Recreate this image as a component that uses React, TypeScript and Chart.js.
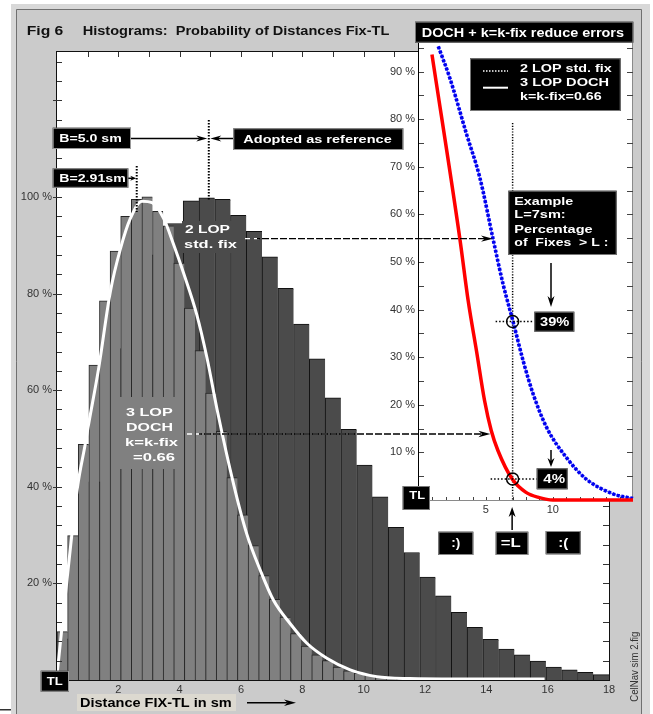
import React, { useEffect, useRef } from 'react';
import { Chart, registerables } from 'chart.js';

Chart.register(...registerables);

const W = 653;
const H = 714;
const FONT = '"Liberation Sans", Arial, Helvetica, sans-serif';

// ---------------- main histogram data ----------------
const HIST_RANGE_SM = 18;
// 2 LOP standard fix : 35 bins over 0..18 sm (percent of max)
const stdFixPct = [8.5, 25, 41, 55.6, 68.6, 79.5, 88, 94.5, 99.2, 99.8, 99.5, 96.2, 92.9, 87.6, 81.1, 73.7, 66.5, 58.4, 51.9, 44.5, 37.9, 31.6, 26.4, 21.3, 17.4, 14, 10.9, 8.4, 6.4, 5.2, 3.9, 2.7, 2.1, 1.6, 1.1];
// 3 LOP DOCH k=k-fix : 52 bins over 0..18 sm
const dochPct = [10, 29.9, 48.8, 65.2, 78.5, 88.8, 96, 99.5, 100, 97, 94, 86.3, 77, 68.2, 59.4, 51.5, 41.9, 34.2, 27.8, 21.6, 16.7, 13, 9.6, 7, 5.2, 4, 2.7, 1.9, 1.4, 1.0, 0.8, 0.6, 0.5, 0.4, 0.35, 0.3, 0.25, 0.2, 0.2, 0.15, 0.15, 0.1, 0.1, 0.1, 0.1, 0.05, 0, 0, 0, 0, 0, 0];
// fitted curve for DOCH histogram
const dochFitX = [0, 0.33, 0.67, 0.92, 1.01, 1.36, 1.74, 2.07, 2.39, 2.77, 3.1, 3.48, 3.8, 4.13, 4.56, 4.89, 5.22, 5.76, 6.19, 6.63, 7.06, 7.6, 8.15, 8.8, 9.56, 10.43, 11.5, 13, 15.9];
const dochFitY = [1, 21, 40, 48.8, 52.2, 64.6, 80.4, 89.3, 95.5, 99.1, 98.8, 95.5, 90.2, 84.2, 75.6, 66.7, 56, 40.5, 30.2, 22.7, 16.5, 11.7, 7.6, 4.5, 2.1, 0.7, 0.3, 0.2, 0.2];
const mainXLabels = [2, 4, 6, 8, 10, 12, 14, 16, 18];
const mainYLabels = [20, 40, 60, 80, 100];
const bStdMark = 4.95; // B=5.0 sm
const bDochMark = 2.6; // B=2.91 sm

// ---------------- inset: percentage of fixes > L ----------------
const INSET_X_MAX = 16;
const INSET_Y_MAX = 96;
const stdExceedX = [1.44, 2.31, 3.56, 4.55, 5.54, 6.29, 7.04, 7.79, 8.53, 9.53, 11, 12.5, 14.5, 16];
const stdExceedY = [95.3, 88.6, 76.8, 67.7, 54.8, 45.3, 37.4, 29.2, 22.3, 15.3, 9, 4.4, 1.3, 0.3];
const dochExceedX = [0.97, 3.06, 3.68, 4.3, 4.9, 5.4, 5.9, 6.97, 8.0, 9.0, 10, 16];
const dochExceedY = [93.6, 54.8, 41.8, 31.3, 20.9, 14.6, 10.4, 4.4, 1.6, 0.5, 0, 0];
const insetXLabels = [5, 10];
const insetYLabels = [10, 20, 30, 40, 50, 60, 70, 80, 90];
const exampleL = 7;
const stdAtL = 37.5;
const dochAtL = 4.4;
const stdArrowLevel = 54.9;
const dochArrowLevel = 13.86;

// ---------------- helpers ----------------
function text(ctx: CanvasRenderingContext2D, s: string, x: number, cy: number, size: number, width: number | null, opts: { bold?: boolean; color?: string; align?: 'left' | 'center' } = {}) {
  ctx.save();
  ctx.font = `${opts.bold === false ? '' : 'bold '}${size}px ${FONT}`;
  ctx.fillStyle = opts.color ?? '#fff';
  ctx.textBaseline = 'alphabetic';
  ctx.textAlign = 'left';
  const m = ctx.measureText(s).width;
  const sx = width ? width / m : 1;
  const w = m * sx;
  const x0 = opts.align === 'center' ? x - w / 2 : x;
  ctx.translate(x0, cy + size * 0.36);
  ctx.scale(sx, 1);
  ctx.fillText(s, 0, 0);
  ctx.restore();
}

function box(ctx: CanvasRenderingContext2D, x: number, y: number, w: number, h: number, fill = '#000', stroke: string | null = '#9a9a9a') {
  ctx.fillStyle = fill;
  ctx.fillRect(x, y, w, h);
  if (stroke) {
    ctx.strokeStyle = stroke;
    ctx.lineWidth = 1;
    ctx.strokeRect(x + 0.5, y + 0.5, w - 1, h - 1);
  }
}

function arrowHead(ctx: CanvasRenderingContext2D, x: number, y: number, ang: number, len = 10, hw = 3.5, color = '#000') {
  const c = Math.cos(ang), s = Math.sin(ang);
  const bx = x - len * c, by = y - len * s;
  const nx = x - len * 0.7 * c, ny = y - len * 0.7 * s;
  ctx.fillStyle = color;
  ctx.beginPath();
  ctx.moveTo(x, y);
  ctx.lineTo(bx - hw * s, by + hw * c);
  ctx.lineTo(nx, ny);
  ctx.lineTo(bx + hw * s, by - hw * c);
  ctx.closePath();
  ctx.fill();
}

function arrow(ctx: CanvasRenderingContext2D, x1: number, y1: number, x2: number, y2: number, len = 10, hw = 3.5, lw = 1.5) {
  const ang = Math.atan2(y2 - y1, x2 - x1);
  ctx.save();
  ctx.strokeStyle = '#000';
  ctx.lineWidth = lw;
  ctx.setLineDash([]);
  ctx.beginPath();
  ctx.moveTo(x1, y1);
  ctx.lineTo(x2 - len * 0.7 * Math.cos(ang), y2 - len * 0.7 * Math.sin(ang));
  ctx.stroke();
  arrowHead(ctx, x2, y2, ang, len, hw);
  ctx.restore();
}

function dashedArrow(ctx: CanvasRenderingContext2D, x1: number, y: number, x2: number) {
  ctx.save();
  ctx.lineWidth = 1.3;
  ctx.strokeStyle = '#fff';
  ctx.setLineDash([5, 4]);
  ctx.lineDashOffset = 0;
  ctx.beginPath(); ctx.moveTo(x1, y); ctx.lineTo(x2 - 8, y); ctx.stroke();
  ctx.strokeStyle = '#000';
  ctx.setLineDash([7, 2]);
  ctx.lineDashOffset = 4;
  ctx.beginPath(); ctx.moveTo(x1 + 12, y); ctx.lineTo(x2 - 8, y); ctx.stroke();
  ctx.restore();
  arrowHead(ctx, x2, y, 0, 12, 3.2);
}

function dotted(ctx: CanvasRenderingContext2D, x1: number, y1: number, x2: number, y2: number, lw = 1.5, color = '#000', dash = [1.5, 1.5]) {
  ctx.save();
  ctx.strokeStyle = color;
  ctx.lineWidth = lw;
  ctx.setLineDash(dash);
  ctx.beginPath(); ctx.moveTo(x1, y1); ctx.lineTo(x2, y2); ctx.stroke();
  ctx.restore();
}

function crossX(xa: number[], ya: number[], level: number): number {
  for (let i = 1; i < xa.length; i++) {
    const y0 = ya[i - 1], y1 = ya[i];
    if ((y0 - level) * (y1 - level) <= 0 && y0 !== y1) {
      return xa[i - 1] + (level - y0) * (xa[i] - xa[i - 1]) / (y1 - y0);
    }
  }
  return xa[xa.length - 1];
}

// ---------------- plugins ----------------
const mainDecor = {
  id: 'mainDecor',
  beforeDraw(chart: any) {
    const ctx: CanvasRenderingContext2D = chart.ctx;
    const { left, top, right, bottom } = chart.chartArea;
    ctx.save();
    ctx.fillStyle = '#fff'; ctx.fillRect(0, 0, W, H);
    ctx.fillStyle = '#d8d8d8'; ctx.fillRect(11, 4, 639, H);
    ctx.fillStyle = '#cbcbcb'; ctx.fillRect(16, 9, 626, H);
    ctx.strokeStyle = '#707070'; ctx.lineWidth = 1;
    ctx.beginPath(); ctx.moveTo(16.5, H); ctx.lineTo(16.5, 9.5); ctx.lineTo(641.5, 9.5); ctx.lineTo(641.5, H); ctx.stroke();
    ctx.fillStyle = '#333'; ctx.fillRect(0, 709, 11, 1.5);
    ctx.fillStyle = '#fff'; ctx.fillRect(left, top, right - left, bottom - top);
    text(ctx, 'Fig 6', 26.7, 30.5, 12.5, 36.6, { color: '#111' });
    text(ctx, 'Histograms:  Probability of Distances Fix-TL', 82.7, 30.5, 12.5, 306.6, { color: '#111' });
    ctx.fillStyle = '#dcd9d0'; ctx.fillRect(77, 694, 159, 17);
    text(ctx, 'Distance FIX-TL in sm', 80, 702.7, 12, 151.7, { color: '#000' });
    arrow(ctx, 247, 702.7, 296, 702.7, 12, 3.2, 1.5);
    ctx.save();
    ctx.translate(634.5, 666.7);
    ctx.rotate(-Math.PI / 2);
    text(ctx, 'CelNav sim 2.fig', 0, 0, 10.5, 70, { bold: false, color: '#333', align: 'center' });
    ctx.restore();
    ctx.restore();
  },
  afterDatasetsDraw(chart: any) {
    const ctx: CanvasRenderingContext2D = chart.ctx;
    const { left, top, right, bottom } = chart.chartArea;
    const xs = chart.scales.x, ys = chart.scales.y;
    ctx.save();
    // in-plot labels
    ctx.fillStyle = '#4b4b4b'; ctx.fillRect(182, 221, 64, 32);
    text(ctx, '2 LOP', 185, 229, 11.5, 45);
    text(ctx, 'std. fix', 184, 244, 11.5, 53);
    ctx.fillStyle = '#808080'; ctx.fillRect(120, 397, 64, 72);
    text(ctx, '3 LOP', 126, 411.7, 11.5, 46.7);
    text(ctx, 'DOCH', 126, 426.7, 11.5, 47);
    text(ctx, 'k=k-fix', 125, 441.5, 11.5, 53);
    text(ctx, '=0.66', 133, 456.7, 11.5, 42);
    // frame
    ctx.strokeStyle = '#111'; ctx.lineWidth = 1; ctx.setLineDash([]);
    ctx.strokeRect(left - 0.5, top - 0.5, right - left + 1, bottom - top + 1);
    ctx.strokeStyle = '#333';
    ctx.beginPath();
    for (let v = 1; v < HIST_RANGE_SM; v++) {
      const px = Math.round(xs.getPixelForValue(v)) + 0.5;
      ctx.moveTo(px, top); ctx.lineTo(px, top + 5);
    }
    for (let v = 4; v < 130; v += 4) {
      const py = Math.round(ys.getPixelForValue(v)) + 0.5;
      const major = v % 20 === 0;
      ctx.moveTo(left - (major ? 4 : 0), py); ctx.lineTo(left + 5, py);
      ctx.moveTo(right - 6, py); ctx.lineTo(right, py);
    }
    ctx.stroke();
    // B markers
    const xb = xs.getPixelForValue(bStdMark);
    dotted(ctx, xb, 120, xb, ys.getPixelForValue(100) + 4, 2);
    const xb2 = xs.getPixelForValue(bDochMark);
    dotted(ctx, xb2, 166, xb2, 212, 2);
    box(ctx, 52.7, 127.7, 78.3, 21.3);
    text(ctx, 'B=5.0 sm', 59.3, 138.5, 11, 62.4);
    box(ctx, 233.3, 128.3, 170, 21.7);
    text(ctx, 'Adopted as reference', 243.3, 139, 11, 148.4);
    arrow(ctx, 131, 138.5, xb - 1.5, 138.5, 11, 3);
    arrow(ctx, 233, 138.5, xb + 1.5, 138.5, 11, 3);
    box(ctx, 52.7, 168.3, 75.6, 19.5);
    text(ctx, 'B=2.91sm', 59.3, 178.3, 11, 66.4);
    arrow(ctx, 128.3, 178.3, xb2 - 0.5, 178.3, 6, 2.5);
    // TL
    box(ctx, 40.7, 670.7, 28.3, 21);
    text(ctx, 'TL', 46.7, 680.7, 11.5, 16);
    ctx.restore();
  },
};

const insetDecor = {
  id: 'insetDecor',
  beforeDraw(chart: any) {
    const ctx: CanvasRenderingContext2D = chart.ctx;
    const { left, top, right, bottom } = chart.chartArea;
    ctx.save();
    ctx.fillStyle = '#fff';
    ctx.fillRect(left, top, right - left, bottom - top);
    ctx.restore();
  },
  beforeDatasetsDraw(chart: any) {
    const ctx: CanvasRenderingContext2D = chart.ctx;
    const { left, top, right, bottom } = chart.chartArea;
    const xs = chart.scales.x, ys = chart.scales.y;
    ctx.save();
    ctx.lineWidth = 1;
    ctx.strokeStyle = '#000';
    ctx.beginPath(); ctx.moveTo(left - 0.5, top); ctx.lineTo(left - 0.5, bottom); ctx.stroke();
    ctx.strokeStyle = '#8a8a8a';
    ctx.beginPath(); ctx.moveTo(right - 0.5, top); ctx.lineTo(right - 0.5, bottom); ctx.stroke();
    ctx.beginPath(); ctx.moveTo(left, bottom + 0.5); ctx.lineTo(right, bottom + 0.5); ctx.stroke();
    ctx.strokeStyle = '#444';
    ctx.beginPath();
    for (let v = 5; v < INSET_Y_MAX; v += 5) {
      const py = Math.round(ys.getPixelForValue(v)) + 0.5;
      ctx.moveTo(left, py); ctx.lineTo(left + 5, py);
      ctx.moveTo(right - 6, py); ctx.lineTo(right, py);
    }
    for (let v = 1; v < INSET_X_MAX; v++) {
      const px = Math.round(xs.getPixelForValue(v)) + 0.5;
      ctx.moveTo(px, bottom); ctx.lineTo(px, bottom - 3);
    }
    ctx.stroke();
    const xL = xs.getPixelForValue(exampleL);
    dotted(ctx, xL, 123, xL, bottom, 1.5, '#000', [1.2, 1.6]);
    ctx.restore();
  },
  afterDatasetsDraw(chart: any) {
    const ctx: CanvasRenderingContext2D = chart.ctx;
    const xs = chart.scales.x, ys = chart.scales.y;
    ctx.save();
    // title
    box(ctx, 415, 21.7, 218.3, 21, '#000', '#777');
    text(ctx, 'DOCH + k=k-fix reduce errors', 421.7, 32.3, 12, 202.3);
    // legend
    box(ctx, 470, 58.3, 150.7, 52.7, '#000', '#777');
    dotted(ctx, 483, 71, 508, 71, 1.5, '#fff', [1.5, 1.5]);
    ctx.strokeStyle = '#fff'; ctx.lineWidth = 2; ctx.setLineDash([]);
    ctx.beginPath(); ctx.moveTo(483, 87.7); ctx.lineTo(508, 87.7); ctx.stroke();
    text(ctx, '2 LOP std. fix', 520, 68, 11.5, 91.7);
    text(ctx, '3 LOP DOCH', 520, 81.7, 11.5, 89);
    text(ctx, 'k=k-fix=0.66', 520, 96, 11.5, 81.7);
    // example box
    box(ctx, 508.3, 190.7, 108.4, 64.3, '#000', '#777');
    text(ctx, 'Example', 514.3, 201, 11.5, 59);
    text(ctx, 'L=7sm:', 514.3, 214, 11.5, 51.4);
    text(ctx, 'Percentage', 514.3, 228.5, 11.5, 78.3);
    text(ctx, 'of  Fixes  > L :', 514.3, 242, 11.5, 94);
    arrow(ctx, 551, 263, 551, 307, 11, 3.5);
    // markers at L
    const xL = xs.getPixelForValue(exampleL);
    const y1 = ys.getPixelForValue(stdAtL);
    const y2 = ys.getPixelForValue(dochAtL);
    dotted(ctx, xL - 17, y1, xL + 20, y1, 1.5, '#000', [1.5, 2]);
    dotted(ctx, xL - 22, y2, xL + 24, y2, 1.5, '#000', [1.5, 2]);
    ctx.strokeStyle = '#000'; ctx.lineWidth = 1.5; ctx.setLineDash([]);
    ctx.beginPath(); ctx.arc(xL, y1, 6, 0, Math.PI * 2); ctx.stroke();
    ctx.beginPath(); ctx.arc(xL, y2, 6, 0, Math.PI * 2); ctx.stroke();
    box(ctx, 534.3, 311.7, 40, 20, '#000', '#777');
    text(ctx, '39%', 540, 321.7, 12, 29.3);
    arrow(ctx, 551, 450, 551, 467, 9, 3.5);
    box(ctx, 536.7, 468.3, 31, 21, '#000', '#777');
    text(ctx, '4%', 543.3, 479, 12, 21.7);
    // TL
    box(ctx, 402.7, 486, 27.3, 24, '#000', '#777');
    text(ctx, 'TL', 409.3, 495, 11.5, 15.7);
    // :) =L :(
    box(ctx, 438.3, 531.7, 35, 23.3, '#000', '#888');
    text(ctx, ':)', 455.8, 543, 12, 9, { align: 'center' });
    box(ctx, 495.7, 531.7, 32.6, 23.3, '#000', '#888');
    text(ctx, '=L', 510.7, 543, 12, 20, { align: 'center' });
    box(ctx, 545.7, 531, 35, 23.3, '#000', '#888');
    text(ctx, ':(', 563.2, 542.5, 12, 10, { align: 'center' });
    arrow(ctx, xL - 0.5, 530, xL - 0.5, 507, 10, 3.5);
    // dashed arrows from histogram labels to curves
    const ya = ys.getPixelForValue(stdArrowLevel);
    dashedArrow(ctx, 245, ya, xs.getPixelForValue(crossX(stdExceedX, stdExceedY, stdArrowLevel)));
    const yb = ys.getPixelForValue(dochArrowLevel);
    dashedArrow(ctx, 187, yb, xs.getPixelForValue(crossX(dochExceedX, dochExceedY, dochArrowLevel)) - 2);
    ctx.restore();
  },
};

export default function App() {
  const mainRef = useRef<HTMLCanvasElement>(null);
  const insetRef = useRef<HTMLCanvasElement>(null);

  useEffect(() => {
    const nStd = stdFixPct.length;
    const nDoch = dochPct.length;
    const stdData = stdFixPct.map((v, i) => ({ x: ((i + 0.5) * HIST_RANGE_SM) / nStd, y: v }));
    const dochData = dochPct.map((v, i) => ({ x: ((i + 0.5) * HIST_RANGE_SM) / nDoch, y: v }));
    const fitData = dochFitX.map((x, i) => ({ x, y: dochFitY[i] }));
    const tickFont = { family: FONT, size: 11 };

    const main = new Chart(mainRef.current!, {
      type: 'bar',
      data: {
        datasets: [
          {
            type: 'line', data: fitData, xAxisID: 'x', yAxisID: 'y',
            borderColor: '#ffffff', borderWidth: 3, pointRadius: 0,
            cubicInterpolationMode: 'monotone', order: 0,
          } as any,
          {
            type: 'bar', data: dochData, xAxisID: 'x2', yAxisID: 'y',
            backgroundColor: '#808080', borderColor: '#262626',
            borderWidth: { top: 1, left: 1, right: 0, bottom: 0 }, borderSkipped: false,
            barPercentage: 1, categoryPercentage: 1, grouped: false, order: 1,
          } as any,
          {
            type: 'bar', data: stdData, xAxisID: 'x', yAxisID: 'y',
            backgroundColor: '#4b4b4b', borderColor: '#111111',
            borderWidth: { top: 1, left: 1, right: 0, bottom: 0 }, borderSkipped: false,
            barPercentage: 1, categoryPercentage: 1, grouped: false, order: 2,
          } as any,
        ],
      },
      options: {
        responsive: false, animation: false, devicePixelRatio: 1, events: [],
        layout: { padding: { left: 0, top: 52, right: 44, bottom: 0 } },
        plugins: { legend: { display: false }, tooltip: { enabled: false } },
        scales: {
          x: {
            type: 'linear', position: 'bottom', min: 0, max: HIST_RANGE_SM, offset: false,
            grid: { display: false, drawTicks: false }, border: { display: false },
            ticks: {
              stepSize: 2, autoSkip: false, maxRotation: 0, padding: 3, color: '#333', font: tickFont,
              callback: (v: any) => (mainXLabels.includes(Number(v)) ? String(v) : ''),
            },
            afterFit: (s: any) => { s.height = 34; },
          },
          x2: {
            type: 'linear', display: false, min: 0, max: HIST_RANGE_SM, offset: false,
            ticks: { stepSize: 2 },
          },
          y: {
            type: 'linear', position: 'left', min: 0, max: 130,
            grid: { display: false, drawTicks: false }, border: { display: false },
            ticks: {
              stepSize: 20, autoSkip: false, padding: 5, color: '#333', font: tickFont,
              callback: (v: any) => (mainYLabels.includes(Number(v)) ? `${v} %` : ''),
            },
            afterFit: (s: any) => { s.width = 57; },
          },
        },
      } as any,
      plugins: [mainDecor],
    });

    const stdLine = stdExceedX.map((x, i) => ({ x, y: stdExceedY[i] }));
    const dochLine = dochExceedX.map((x, i) => ({ x, y: dochExceedY[i] }));

    const inset = new Chart(insetRef.current!, {
      type: 'line',
      data: {
        datasets: [
          { data: stdLine, borderColor: '#6a70ff', borderWidth: 1.4, pointRadius: 0, cubicInterpolationMode: 'monotone', clip: false, order: 2 } as any,
          { data: stdLine, borderColor: '#0000ee', borderWidth: 3.6, borderDash: [3, 1.6], pointRadius: 0, cubicInterpolationMode: 'monotone', clip: false, order: 1 } as any,
          { data: dochLine, borderColor: '#ff0000', borderWidth: 3.5, pointRadius: 0, cubicInterpolationMode: 'monotone', clip: false, order: 0 } as any,
        ],
      },
      options: {
        responsive: false, animation: false, devicePixelRatio: 1, events: [],
        layout: { padding: { left: 379, top: 43, right: 20, bottom: 194 } },
        plugins: { legend: { display: false }, tooltip: { enabled: false } },
        scales: {
          x: {
            type: 'linear', min: 0, max: INSET_X_MAX,
            grid: { display: false, drawTicks: false }, border: { display: false },
            ticks: {
              stepSize: 5, autoSkip: false, maxRotation: 0, padding: 3, color: '#333', font: tickFont,
              callback: (v: any) => (insetXLabels.includes(Number(v)) ? String(v) : ''),
            },
            afterFit: (s: any) => { s.height = 20; },
          },
          y: {
            type: 'linear', min: 0, max: INSET_Y_MAX,
            grid: { display: false, drawTicks: false }, border: { display: false },
            ticks: {
              stepSize: 10, autoSkip: false, padding: 4, color: '#333', font: tickFont,
              callback: (v: any) => (insetYLabels.includes(Number(v)) ? `${v} %` : ''),
            },
            afterFit: (s: any) => { s.width = 40; },
          },
        },
      } as any,
      plugins: [insetDecor],
    });

    return () => {
      inset.destroy();
      main.destroy();
    };
  }, []);

  return (
    <div style={{ position: 'fixed', left: 0, top: 0, width: W, height: H, background: '#fff', overflow: 'hidden' }}>
      <canvas ref={mainRef} width={W} height={H} style={{ position: 'absolute', left: 0, top: 0, width: W, height: H }} />
      <canvas ref={insetRef} width={W} height={H} style={{ position: 'absolute', left: 0, top: 0, width: W, height: H }} />
    </div>
  );
}
